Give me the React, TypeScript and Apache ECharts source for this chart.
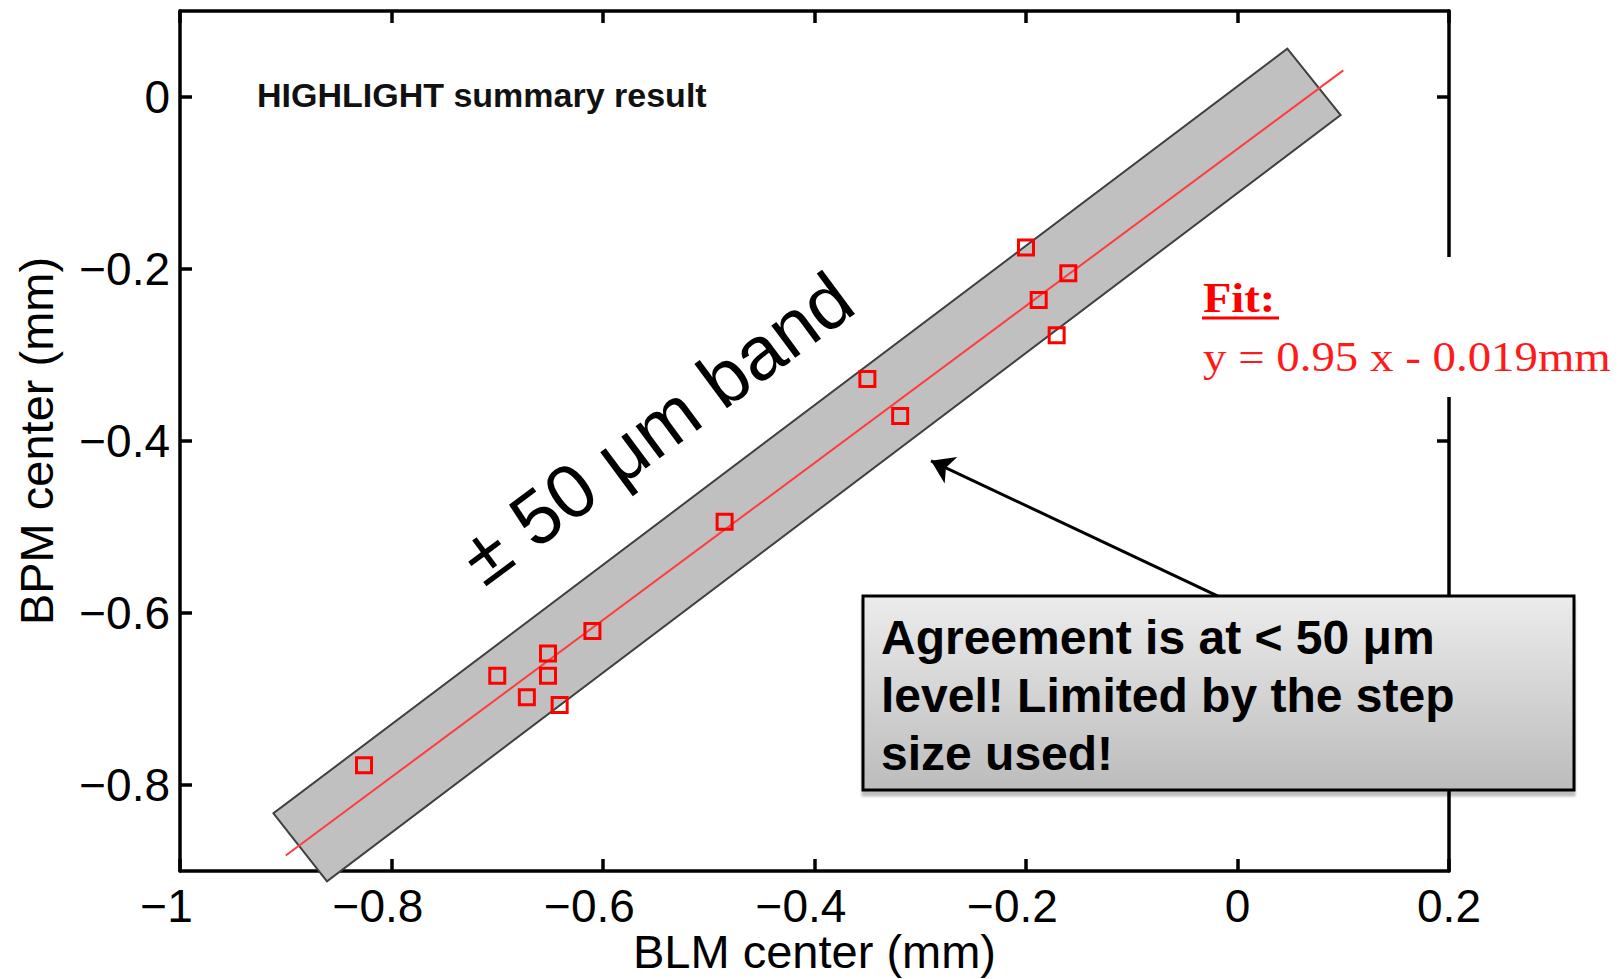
import React, { useEffect, useRef } from 'react';
import * as echarts from 'echarts';

// ---- data ----
const blmCenter = [-0.826, -0.700, -0.672, -0.652, -0.652, -0.641, -0.610, -0.485, -0.350, -0.319, -0.200, -0.160, -0.188, -0.171];
const bpmCenter = [-0.777, -0.673, -0.698, -0.647, -0.673, -0.707, -0.621, -0.494, -0.328, -0.371, -0.175, -0.205, -0.236, -0.277];

// fitted line as drawn (end points)
const fitLineX = [-0.9, 0.1];
const fitLineY = [-0.882, 0.031];

// +-50 um band corners
const bandX = [-0.9116, -0.861, 0.0975, 0.0471];
const bandY = [-0.8329, -0.9121, -0.021, 0.0562];

// annotation arrow (data coords)
const arrowFrom = [-0.0175, -0.581];
const arrowTo = [-0.2898, -0.423];

const yTickValues = [-0.8, -0.6, -0.4, -0.2, 0];
const xAxisTitle = 'BLM center (mm)';
const yAxisTitle = 'BPM center (mm)';
const titleText = 'HIGHLIGHT summary result';
const bandText = '\u00B1 50 \u03BCm band';
const fitTitle = 'Fit:';
const fitEquation = 'y = 0.95 x - 0.019mm';
const noteText = 'Agreement is at < 50 \u03BCm\nlevel! Limited by the step\nsize used!';

const SANS = '"Liberation Sans", Arial, sans-serif';
const SERIF = '"Liberation Serif", "Times New Roman", serif';

const fmtNum = (v: number) => {
  const r = Math.round(v * 10) / 10;
  if (r === 0) return '0';
  return r < 0 ? '\u2212' + String(-r) : String(r);
};

const axisLineStyle = { color: '#000', width: 3.5 };

function buildOption() {
  const scatterData = blmCenter.map((x, i) => [x, bpmCenter[i]]);
  const lineData = fitLineX.map((x, i) => [x, fitLineY[i]]);
  return {
    animation: false,
    backgroundColor: '#fff',
    grid: { left: 180, right: 174, top: 11, bottom: 108, containLabel: false, outerBoundsMode: 'none' },
    xAxis: [
      {
        type: 'value', min: -1, max: 0.2, interval: 0.2, position: 'bottom',
        axisLine: { show: true, onZero: false, lineStyle: axisLineStyle },
        axisTick: { show: true, inside: true, length: 12, lineStyle: axisLineStyle },
        splitLine: { show: false },
        axisLabel: {
          margin: 15,
          lineHeight: 40,
          formatter: (v: number) => {
            const r = Math.round(v * 10) / 10;
            return r < 0 ? `{n|${fmtNum(v)}}{p| }` : `{n|${fmtNum(v)}}`;
          },
          rich: {
            n: { fontSize: 46, fontFamily: SANS, color: '#000', lineHeight: 40 },
            p: { width: 27, fontSize: 46, fontFamily: SANS, lineHeight: 40 },
          },
        },
        name: xAxisTitle, nameLocation: 'middle', nameGap: 57, nameMoveOverlap: false,
        nameTextStyle: { fontSize: 47, fontFamily: SANS, color: '#000' },
      },
      {
        type: 'value', min: -1, max: 0.2, interval: 0.2, position: 'top',
        axisLine: { show: true, onZero: false, lineStyle: axisLineStyle },
        axisTick: { show: true, inside: true, length: 12, lineStyle: axisLineStyle },
        splitLine: { show: false },
        axisLabel: { show: false },
      },
    ],
    yAxis: [
      {
        type: 'value', min: -0.9, max: 0.1, position: 'left',
        axisLine: { show: true, onZero: false, lineStyle: axisLineStyle },
        axisTick: { show: true, inside: true, length: 12, lineStyle: axisLineStyle, customValues: yTickValues },
        splitLine: { show: false },
        axisLabel: {
          margin: 10, fontSize: 46, fontFamily: SANS, color: '#000',
          customValues: yTickValues,
          formatter: (v: number) => fmtNum(v),
        },
        name: yAxisTitle, nameLocation: 'middle', nameGap: 120, nameRotate: 90, nameMoveOverlap: false,
        nameTextStyle: { fontSize: 47, fontFamily: SANS, color: '#000' },
      },
      {
        type: 'value', min: -0.9, max: 0.1, position: 'right',
        axisLine: { show: true, onZero: false, lineStyle: axisLineStyle },
        axisTick: { show: true, inside: true, length: 12, lineStyle: axisLineStyle, customValues: yTickValues },
        splitLine: { show: false },
        axisLabel: { show: false, customValues: yTickValues },
      },
    ],
    series: [
      {
        type: 'custom', xAxisIndex: 0, yAxisIndex: 0, z: 1, silent: true, clip: false,
        data: [[bandX[0], bandY[0]]],
        renderItem: (_params: any, api: any) => ({
          type: 'polygon',
          shape: { points: bandX.map((x, i) => api.coord([x, bandY[i]])) },
          style: { fill: '#c0c0c0', stroke: '#404040', lineWidth: 2 },
        }),
      },
      {
        type: 'line', xAxisIndex: 0, yAxisIndex: 0, z: 2, silent: true,
        data: lineData, showSymbol: false, symbol: 'none',
        lineStyle: { color: '#ff3c3c', width: 2 },
        markLine: {
          silent: true,
          symbol: ['none', 'arrow'],
          symbolSize: 22,
          label: { show: false },
          lineStyle: { color: '#000', width: 3, type: 'solid' },
          data: [[{ coord: arrowFrom }, { coord: arrowTo }]],
        },
      },
      {
        type: 'scatter', xAxisIndex: 0, yAxisIndex: 0, z: 3, silent: true,
        data: scatterData, symbol: 'rect', symbolSize: 15,
        itemStyle: { color: 'rgba(0,0,0,0)', borderColor: '#ff0000', borderWidth: 3, opacity: 1 },
      },
    ],
    graphic: [
      {
        type: 'text', x: 257, y: 95, z: 100,
        style: { text: titleText, font: `bold 34px ${SANS}`, fill: '#111', textAlign: 'left', textVerticalAlign: 'middle' },
      },
      {
        type: 'text', x: 656, y: 428, z: 100, rotation: (36.5 * Math.PI) / 180,
        style: { text: bandText, font: `76px ${SANS}`, fill: '#000', textAlign: 'center', textVerticalAlign: 'middle' },
      },
      {
        type: 'rect', z: 100, shape: { x: 1195, y: 257, width: 425, height: 140 },
        style: { fill: '#fff' },
      },
      {
        type: 'text', x: 1203, y: 297.5, z: 101, scaleX: 1.08,
        style: { text: fitTitle, font: `bold 43px ${SERIF}`, fill: '#ff0000', textAlign: 'left', textVerticalAlign: 'middle' },
      },
      {
        type: 'line', z: 101, shape: { x1: 1202, y1: 318, x2: 1279, y2: 318 },
        style: { stroke: '#ff0000', lineWidth: 3 },
      },
      {
        type: 'text', x: 1203, y: 356.5, z: 101, scaleX: 1.09,
        style: { text: fitEquation, font: `43px ${SERIF}`, fill: '#ff1a1a', textAlign: 'left', textVerticalAlign: 'middle' },
      },
      {
        type: 'rect', z: 100, shape: { x: 863, y: 596, width: 711, height: 194 },
        style: {
          fill: {
            type: 'linear', x: 0, y: 0, x2: 0, y2: 1,
            colorStops: [
              { offset: 0, color: '#ececec' },
              { offset: 1, color: '#bcbcbc' },
            ],
          },
          stroke: '#000', lineWidth: 3,
          shadowColor: 'rgba(0,0,0,0.25)', shadowOffsetY: 5, shadowBlur: 2,
        },
      },
      {
        type: 'text', x: 881, y: 608, z: 101,
        style: { text: noteText, font: `bold 48px ${SANS}`, lineHeight: 58, fill: '#000', textAlign: 'left', textVerticalAlign: 'top' },
      },
    ],
  };
}

export default function App() {
  const ref = useRef<HTMLDivElement>(null);
  useEffect(() => {
    if (!ref.current) return;
    const chart = echarts.init(ref.current, null, { renderer: 'svg' });
    chart.setOption(buildOption() as any);
    return () => chart.dispose();
  }, []);
  return (
    <div
      ref={ref}
      style={{ position: 'fixed', left: 0, top: 0, width: 1623, height: 979, background: '#fff' }}
    />
  );
}
